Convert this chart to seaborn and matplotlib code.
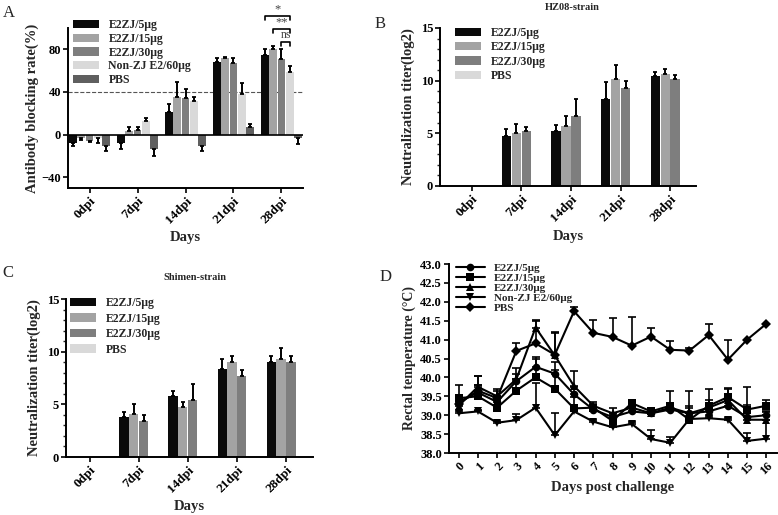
import numpy as np
import pandas as pd
import seaborn as sns
import matplotlib.pyplot as plt
from matplotlib.container import BarContainer
from matplotlib.ticker import MultipleLocator, FormatStrFormatter

# ---- data ----
days = ["0dpi", "7dpi", "14dpi", "21dpi", "28dpi"]
groups_a = ["E2ZJ/5μg", "E2ZJ/15μg", "E2ZJ/30μg", "Non-ZJ E2/60μg", "PBS"]
groups_bc = ["E2ZJ/5μg", "E2ZJ/15μg", "E2ZJ/30μg", "PBS"]

# A: antibody blocking rate (%)
block_5 = [-8, -8, 21, 68, 75]
block_15 = [-3, 3, 35, 72, 80]
block_30 = [-6, 4, 34, 67, 71]
block_non = [-3, 13, 32, 38, 59]
block_pbs = [-11, -13, -11, 7, -3]
block_5_err = [3, 5, 8, 4, 5]
block_15_err = [2, 4, 14, 1, 3]
block_30_err = [1, 3, 9, 5, 9]
block_non_err = [5, 3, 3, 10, 5]
block_pbs_err = [4, 7, 4, 3, 6]

# B: HZ08-strain neutralization titer (log2)
hz_5 = [0, 4.7, 5.2, 8.3, 10.4]
hz_15 = [0, 5.0, 5.7, 10.2, 10.65]
hz_30 = [0, 5.25, 6.6, 9.35, 10.15]
hz_pbs = [0, 0, 0, 0, 0]
hz_5_err = [0, 0.75, 0.6, 1.55, 0.4]
hz_15_err = [0, 0.9, 0.9, 1.3, 0.45]
hz_30_err = [0, 0.35, 1.7, 0.65, 0.35]

# C: Shimen-strain neutralization titer (log2)
sm_5 = [0, 3.8, 5.75, 8.4, 9.0]
sm_15 = [0, 4.1, 4.7, 9.0, 9.35]
sm_30 = [0, 3.4, 5.4, 7.7, 9.0]
sm_pbs = [0, 0, 0, 0, 0]
sm_5_err = [0, 0.5, 0.55, 0.95, 0.55]
sm_15_err = [0, 0.9, 0.55, 0.55, 1.0]
sm_30_err = [0, 0.55, 1.5, 0.55, 0.55]

# D: rectal temperature
dpc = list(range(17))
temp_5 = [39.35, 39.6, 39.35, 39.9, 40.28, 40.1, 39.55, 39.15, 38.95, 39.1, 39.05, 39.15, 39.05, 39.1, 39.25, 38.95, 39.0]
temp_15 = [39.45, 39.5, 39.2, 39.65, 40.0, 39.7, 39.18, 39.2, 38.85, 39.32, 39.1, 39.25, 38.88, 39.25, 39.48, 39.15, 39.25]
temp_30 = [39.25, 39.75, 39.5, 39.95, 41.32, 40.58, 39.77, 39.25, 39.05, 39.2, 39.05, 39.2, 39.05, 39.2, 39.4, 38.88, 38.88]
temp_non = [39.05, 39.1, 38.8, 38.87, 39.2, 38.47, 39.1, 38.83, 38.68, 38.77, 38.37, 38.27, 38.9, 38.92, 38.88, 38.32, 38.38]
temp_pbs = [39.3, 39.65, 39.45, 40.7, 40.9, 40.6, 41.75, 41.18, 41.07, 40.84, 41.08, 40.73, 40.71, 41.12, 40.47, 41.0, 41.42]
temp_5_err = [0.15, 0.2, 0.15, 0.2, 0.25, 0.3, 0.2, 0.1, 0.1, 0.1, 0.1, 0.1, 0.15, 0.2, 0.15, 0.2, 0.1]
temp_15_err = [0.35, 0.3, 0.2, 0.3, 0.5, 0.5, 0.3, 0.1, 0.15, 0.05, 0.05, 0.4, 0.75, 0.45, 0.25, 0.6, 0.15]
temp_30_err = [0.2, 0.3, 0.2, 0.3, 0.2, 0.6, 0.4, 0.1, 0.15, 0.1, 0.1, 0.1, 0.2, 0.2, 0.3, 0.4, 0.2]
temp_non_err = [0.05, 0.05, 0.05, 0.15, 0.65, 0.6, 0.05, 0.05, 0.05, 0.05, 0.25, 0.15, 0.05, 0.05, 0.05, 0.2, 0.5]
temp_pbs_err = [0.1, 0.4, 0.2, 0.2, 0.6, 0.6, 0.1, 0.35, 0.5, 0.75, 0.22, 0.23, 0.08, 0.28, 0.52, 0.0, 0.0]

colors_a = ["#0a0a0a", "#a3a3a3", "#7e7e7e", "#d9d9d9", "#5f5f5f"]
colors_bc = ["#0a0a0a", "#a3a3a3", "#7e7e7e", "#d9d9d9"]

sns.set_theme(style="ticks")
plt.rcParams["font.family"] = ["Liberation Serif", "DejaVu Serif"]
plt.rcParams["font.weight"] = "bold"
plt.rcParams["axes.labelweight"] = "bold"

fig = plt.figure(figsize=(7.78, 5.15), dpi=100)
W, H = 778, 515


def px_axes(l, t, r, b):
    return fig.add_axes([l / W, 1 - b / H, (r - l) / W, (b - t) / H])


def style_axes(ax, xlabels, label_y, xsize=9.5):
    sns.despine(ax=ax)
    for s in ["left", "bottom"]:
        ax.spines[s].set_linewidth(1.4)
        ax.spines[s].set_color("black")
    ax.set_xticks(range(len(xlabels)), xlabels, rotation=45, ha="right",
                  rotation_mode="anchor", fontsize=xsize, fontweight="bold")
    ax.tick_params(axis="both", direction="out", length=3.5, width=1.2,
                   labelsize=9, colors="black", pad=1.5)
    ax.tick_params(axis="x", labelrotation=45, labelsize=xsize)
    ax.tick_params(which="minor", direction="out", length=2, width=1)
    for lab in ax.get_yticklabels():
        lab.set_fontweight("bold")
    ax.xaxis.set_label_coords(0.5, label_y)


def bar_panel(ax, values, errors, groups, colors, width):
    rows = []
    for g, vals in zip(groups, values):
        for d, v in zip(days, vals):
            rows.append({"day": d, "group": g, "value": v})
    df = pd.DataFrame(rows)
    sns.barplot(data=df, x="day", y="value", hue="group", order=days,
                hue_order=groups, palette=colors, width=width, gap=0.06,
                saturation=1, errorbar=None, linewidth=0, ax=ax)
    bars = [c for c in ax.containers if isinstance(c, BarContainer)]
    for cont, errs in zip(bars, errors):
        for bar, e in zip(cont, errs):
            h = bar.get_height()
            if h == 0 or e == 0:
                continue
            x = bar.get_x() + bar.get_width() / 2
            yerr = [[0], [e]] if h > 0 else [[e], [0]]
            ax.errorbar([x], [h], yerr=yerr, fmt="none", ecolor="black",
                        elinewidth=1.4, capsize=1.6, capthick=1.3)
    handles, labels = ax.get_legend_handles_labels()
    return bars, handles, labels


def legend_bars(ax, handles, labels, x, y, spacing=0.2):
    ax.legend(handles, labels, loc="upper left", bbox_to_anchor=(x / W, 1 - y / H),
              bbox_transform=fig.transFigure, frameon=False,
              handlelength=2.2, handleheight=0.7, labelspacing=spacing,
              handletextpad=0.8, borderaxespad=0, borderpad=0,
              prop={"weight": "bold", "size": 8.5})


# ---- A ----
axA = px_axes(68, 28, 303, 188)
barsA, hA, lA = bar_panel(axA,
                          [block_5, block_15, block_30, block_non, block_pbs],
                          [block_5_err, block_15_err, block_30_err, block_non_err, block_pbs_err],
                          groups_a, colors_a, 0.86)
axA.axhline(40, ls="--", lw=0.8, color="#555555", zorder=0)
axA.axhline(0, lw=1.2, color="black", zorder=1)
axA.set_xlim(-0.45, 4.45)
axA.set_ylim(-50, 100)
axA.set_yticks([-40, 0, 40, 80])
axA.set_ylabel("Antibody blocking rate(%)", fontsize=10.5, labelpad=2)
axA.set_xlabel("Days", fontsize=10.5)
style_axes(axA, days, -0.27)
legend_bars(axA, hA, lA, 73, 19, 0.15)

# significance brackets on the 28dpi group
cx = [c[4].get_x() + c[4].get_width() / 2 for c in barsA]
for i, j, yv, txt, fs in [(0, 3, 111, "*", 9), (1, 3, 99, "**", 9), (2, 3, 87, "ns", 8.5)]:
    axA.plot([cx[i], cx[i], cx[j], cx[j]], [yv - 3.5, yv, yv, yv - 3.5],
             color="black", lw=1.2, clip_on=False)
    axA.text((cx[i] + cx[j]) / 2, yv + 0.5, txt, ha="center", va="bottom",
             fontsize=fs, color="#444444", fontweight="normal", clip_on=False)

# ---- B ----
axB = px_axes(440, 28, 696, 186)
_, hB, lB = bar_panel(axB, [hz_5, hz_15, hz_30, hz_pbs],
                      [hz_5_err, hz_15_err, hz_30_err, [0] * 5],
                      groups_bc, colors_bc, 0.8)
axB.set_xlim(-0.64, 4.52)
axB.set_ylim(0, 15)
axB.set_yticks([0, 5, 10, 15])
axB.yaxis.set_minor_locator(MultipleLocator(1))
axB.set_ylabel("Neutralization titer(log2)", fontsize=10.5, labelpad=4)
axB.set_xlabel("Days", fontsize=10.5)
style_axes(axB, days, -0.28)
legend_bars(axB, hB, lB, 455, 27)

# ---- C ----
axC = px_axes(66, 299, 313, 457)
_, hC, lC = bar_panel(axC, [sm_5, sm_15, sm_30, sm_pbs],
                      [sm_5_err, sm_15_err, sm_30_err, [0] * 5],
                      groups_bc, colors_bc, 0.8)
axC.set_xlim(-0.48, 4.55)
axC.set_ylim(0, 15)
axC.set_yticks([0, 5, 10, 15])
axC.yaxis.set_minor_locator(MultipleLocator(1))
axC.set_ylabel("Neutralization titer(log2)", fontsize=10.5, labelpad=4)
axC.set_xlabel("Days", fontsize=10.5)
style_axes(axC, days, -0.275)
legend_bars(axC, hC, lC, 70, 297, 0.3)

# ---- D ----
axD = px_axes(449, 264, 777, 453)
rows = []
temps = [temp_5, temp_15, temp_30, temp_non, temp_pbs]
temp_errs = [temp_5_err, temp_15_err, temp_30_err, temp_non_err, temp_pbs_err]
for g, vals in zip(groups_a, temps):
    for d, v in zip(dpc, vals):
        rows.append({"day": d, "group": g, "temp": v})
dfD = pd.DataFrame(rows)
markers = ["o", "s", "^", "v", "D"]
sns.lineplot(data=dfD, x="day", y="temp", hue="group", style="group",
             hue_order=groups_a, style_order=groups_a,
             palette=["black"] * 5, markers=markers, dashes=False,
             markersize=5.5, linewidth=1.5, markeredgewidth=0, ax=axD)
for vals, errs in zip(temps, temp_errs):
    axD.errorbar(dpc, vals, yerr=[np.zeros(len(errs)), errs], fmt="none",
                 ecolor="black", elinewidth=1.2, capsize=3, capthick=1.2)
axD.set_xlim(-0.5, 16.55)
axD.set_ylim(38.0, 43.0)
axD.yaxis.set_major_locator(MultipleLocator(0.5))
axD.yaxis.set_major_formatter(FormatStrFormatter("%.1f"))
axD.set_ylabel("Rectal temperature (°C)", fontsize=10, labelpad=3)
axD.set_xlabel("Days post challenge", fontsize=10.5)
style_axes(axD, [str(d) for d in dpc], -0.15, xsize=9)
hD, lD = axD.get_legend_handles_labels()
axD.legend(hD, lD, loc="upper left", bbox_to_anchor=(456 / W, 1 - 263 / H),
           bbox_transform=fig.transFigure, frameon=False,
           handlelength=2.6, labelspacing=0.02, handletextpad=0.8,
           borderaxespad=0, borderpad=0, prop={"weight": "bold", "size": 8})

# ---- titles and panel letters ----
fig.text(572 / W, 1 - 7 / H, "HZ08-strain", ha="center", va="center",
         fontsize=7.5, fontweight="bold")
fig.text(195 / W, 1 - 277 / H, "Shimen-strain", ha="center", va="center",
         fontsize=7.5, fontweight="bold")
for lab, x, y in [("A", 3, 13), ("B", 375, 24), ("C", 2, 273), ("D", 380, 277)]:
    fig.text(x / W, 1 - y / H, lab, ha="left", va="center", fontsize=12,
             fontweight="normal")

fig.savefig("out.png", dpi=100)
